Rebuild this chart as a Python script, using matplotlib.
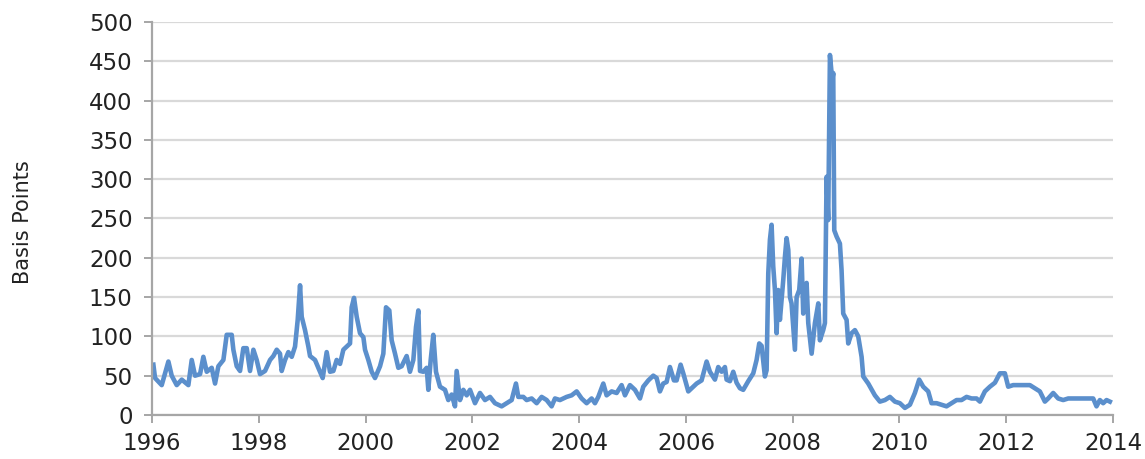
import matplotlib
matplotlib.use("Agg")
import matplotlib.pyplot as plt

# spread in basis points (decimal years)
years = [1996.025, 1996.056, 1996.181, 1996.306, 1996.368, 1996.462, 1996.556, 1996.680,
         1996.743, 1996.805, 1996.899, 1996.961, 1997.024, 1997.117, 1997.180, 1997.242,
         1997.336, 1997.398, 1997.492, 1997.523, 1997.586, 1997.648, 1997.710, 1997.773,
         1997.835, 1997.898, 1997.960, 1998.022, 1998.116, 1998.210, 1998.272, 1998.335,
         1998.397, 1998.428, 1998.491, 1998.553, 1998.616, 1998.678, 1998.728, 1998.772,
         1998.803, 1998.865, 1998.928,
         1998.959, 1999.052, 1999.146, 1999.196, 1999.271, 1999.333, 1999.396, 1999.458,
         1999.521, 1999.583, 1999.646, 1999.708, 1999.739, 1999.783, 1999.833, 1999.895,
         1999.958, 1999.989, 2000.051, 2000.114, 2000.176, 2000.270, 2000.332, 2000.382,
         2000.444, 2000.488, 2000.551, 2000.613, 2000.675, 2000.769, 2000.831, 2000.894,
         2000.944, 2000.988, 2001.019, 2001.081, 2001.144, 2001.175, 2001.219, 2001.268,
         2001.318, 2001.393, 2001.487, 2001.549, 2001.612, 2001.674, 2001.705, 2001.768,
         2001.830, 2001.893, 2001.955, 2002.049,
         2002.142, 2002.236, 2002.330, 2002.423, 2002.548, 2002.642, 2002.736, 2002.816,
         2002.860, 2002.954, 2003.016, 2003.110, 2003.204, 2003.297, 2003.391, 2003.484,
         2003.547, 2003.640, 2003.765, 2003.859, 2003.953, 2004.046, 2004.140, 2004.233,
         2004.296, 2004.358, 2004.452, 2004.514, 2004.608, 2004.702, 2004.795, 2004.858,
         2004.951, 2005.045, 2005.139, 2005.201, 2005.295, 2005.388, 2005.451, 2005.513,
         2005.575, 2005.638, 2005.700, 2005.775, 2005.825, 2005.900, 2005.950, 2006.044,
         2006.106, 2006.200, 2006.293,
         2006.387, 2006.449, 2006.543, 2006.605, 2006.668, 2006.730, 2006.761, 2006.824,
         2006.886, 2006.949, 2007.011, 2007.073, 2007.167, 2007.261, 2007.323, 2007.373,
         2007.417, 2007.479, 2007.511, 2007.542, 2007.573, 2007.604, 2007.635, 2007.667,
         2007.698, 2007.729, 2007.760, 2007.823, 2007.854, 2007.885, 2007.917,
         2007.948, 2007.978, 2008.041, 2008.073, 2008.122, 2008.166, 2008.197, 2008.229,
         2008.260, 2008.291, 2008.354, 2008.416, 2008.479, 2008.509, 2008.571, 2008.603,
         2008.634, 2008.665, 2008.697, 2008.740, 2008.759, 2008.778, 2008.822, 2008.884,
         2008.915, 2008.946, 2009.009, 2009.040, 2009.102, 2009.165, 2009.227, 2009.290,
         2009.321, 2009.415,
         2009.539, 2009.633, 2009.727, 2009.820, 2009.914, 2010.007, 2010.101, 2010.195,
         2010.288, 2010.369, 2010.444, 2010.538, 2010.600, 2010.694, 2010.788, 2010.881,
         2010.975, 2011.069, 2011.162, 2011.256, 2011.350, 2011.443, 2011.506, 2011.599,
         2011.693, 2011.787, 2011.880, 2011.974, 2012.036, 2012.130, 2012.255, 2012.442,
         2012.536, 2012.629, 2012.723, 2012.785, 2012.879, 2012.972, 2013.066, 2013.160,
         2013.441, 2013.628, 2013.690, 2013.753, 2013.815, 2013.878, 2013.940]

spread_bp = [64, 47, 38, 68, 50, 38, 45, 38,
             70, 50, 52, 74, 55, 60, 40, 62,
             70, 102, 102, 83, 62, 56, 85, 85,
             56, 83, 70, 52, 56, 70, 75, 83,
             78, 56, 70, 80, 74, 87, 121, 165,
             125, 108, 87,
             75, 70, 55, 47, 80, 55, 56, 70,
             65, 83, 87, 91, 137, 149, 125, 104,
             99, 83, 70, 55, 47, 62, 78, 137,
             133, 95, 78, 60, 62, 75, 55, 70,
             112, 133, 56, 55, 60, 32, 70, 102,
             55, 36, 32, 19, 26, 11, 56, 19,
             32, 25, 32, 15,
             28, 19, 23, 15, 11, 15, 19, 40,
             23, 23, 19, 21, 15, 23, 19, 11,
             21, 19, 23, 25, 30, 21, 15, 21,
             15, 23, 40, 25, 30, 28, 38, 25,
             38, 32, 21, 36, 44, 50, 47, 30,
             40, 42, 61, 44, 44, 64, 53, 30,
             34, 40, 44,
             68, 55, 45, 61, 55, 61, 45, 43,
             55, 41, 34, 32, 43, 53, 70, 91,
             88, 49, 57, 180, 223, 242, 189, 159,
             104, 159, 121, 172, 201, 225, 210,
             150, 142, 83, 150, 159, 199, 129, 163,
             168, 117, 78, 117, 142, 95, 108, 117,
             303, 248, 458, 426, 435, 235, 227, 218,
             184, 129, 121, 91, 104, 108, 100, 74,
             49, 40,
             25, 17, 19, 23, 17, 15, 9, 13,
             28, 45, 36, 30, 15, 15, 13, 11,
             15, 19, 19, 23, 21, 21, 17, 30,
             36, 41, 53, 53, 36, 38, 38, 38,
             34, 30, 17, 21, 28, 21, 19, 21,
             21, 21, 11, 19, 15, 19, 17]

x_ticks = [1996, 1998, 2000, 2002, 2004, 2006, 2008, 2010, 2012, 2014]
y_ticks = [0, 50, 100, 150, 200, 250, 300, 350, 400, 450, 500]

line_color = '#5b8fcc'
axis_gray = '#a6a6a6'
grid_gray = '#d9d9d9'

fig = plt.figure(figsize=(11.45, 4.59), dpi=100)
ax = fig.add_axes([0.1328, 0.0959, 0.8393, 0.8562])

ax.plot(years, spread_bp, color=line_color, lw=3.3, solid_joinstyle='round')

ax.set_xlim(1996, 2014)
ax.set_ylim(0, 500)
ax.set_xticks(x_ticks)
ax.set_yticks(y_ticks)
ax.set_xticklabels([str(t) for t in x_ticks])

ax.yaxis.grid(True, color=grid_gray, lw=1.6)
ax.set_axisbelow(True)

for side in ['top', 'right']:
    ax.spines[side].set_visible(False)
for side in ['left', 'bottom']:
    ax.spines[side].set_color(axis_gray)
    ax.spines[side].set_linewidth(1.6)

ax.tick_params(axis='both', colors=axis_gray, width=1.4, length=6,
               labelsize=16.5, labelcolor='#222222')
ax.tick_params(axis='y', pad=8)
ax.tick_params(axis='x', pad=6)

ax.set_ylabel("Basis Points", fontsize=15, color='#222222')
ax.yaxis.set_label_coords(-0.124, 0.49)

fig.savefig("out.png", dpi=100)
